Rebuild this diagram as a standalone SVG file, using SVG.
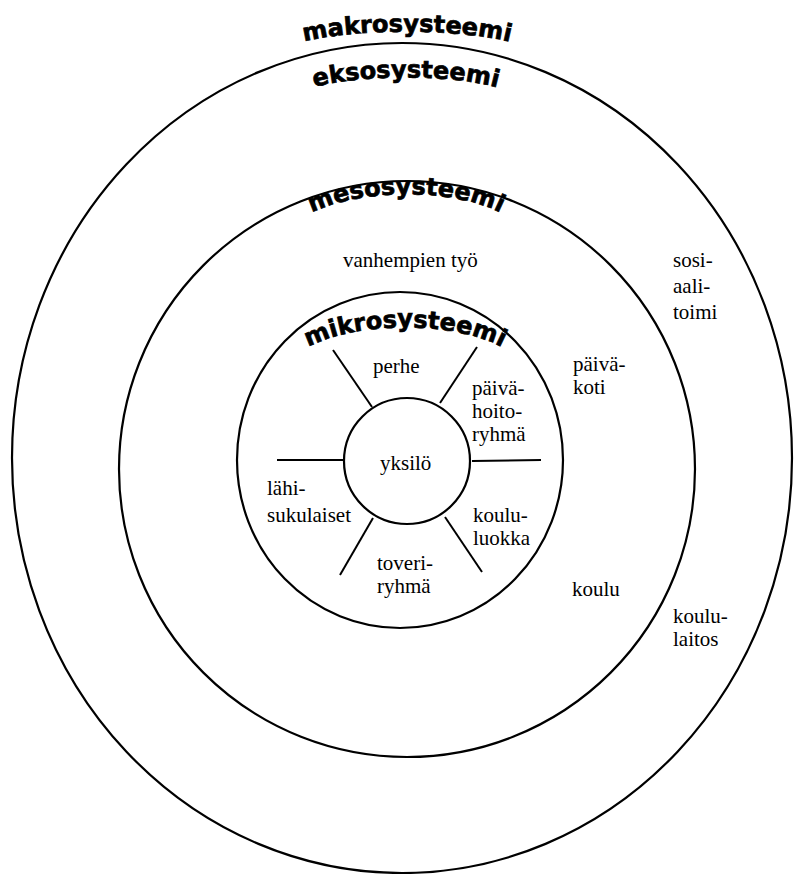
<svg xmlns="http://www.w3.org/2000/svg" xmlns:xlink="http://www.w3.org/1999/xlink" width="794" height="874" viewBox="0 0 794 874">
<style>
.ring{fill:none;stroke:#000;stroke-width:2.2}
.spoke{stroke:#000;stroke-width:2;fill:none}
.lbl{font-family:"Liberation Serif","Times New Roman",serif;font-size:21px;fill:#000}
.ttl{font-family:"DejaVu Sans","Verdana",sans-serif;font-weight:bold;font-size:24px;fill:#000;stroke:#000;stroke-width:0.7px}
</style>
<defs>
<path id="pMakro" d="M 290 46 C 340 27, 470 27, 524 46"/>
<path id="pEkso" d="M 296 94 C 340 72, 470 72, 516 94"/>
<path id="pMeso" d="M 290 228 C 335 183, 478 183, 522 228"/>
<path id="pMikro" d="M 288 362 C 330 316, 480 316, 522 362"/>
</defs>
<rect width="794" height="874" fill="#fff"/>
<g id="makrosysteemi">
<text class="ttl"><textPath xlink:href="#pMakro" href="#pMakro" startOffset="50%" text-anchor="middle">makrosysteemi</textPath></text>
</g>
<g id="eksosysteemi">
<ellipse class="ring" cx="402" cy="458" rx="390" ry="415"/>
<text class="ttl"><textPath xlink:href="#pEkso" href="#pEkso" startOffset="50%" text-anchor="middle">eksosysteemi</textPath></text>
<text class="lbl" x="673" y="267">sosi-</text>
<text class="lbl" x="673" y="293">aali-</text>
<text class="lbl" x="673" y="319">toimi</text>
<text class="lbl" x="673" y="623">koulu-</text>
<text class="lbl" x="673" y="646">laitos</text>
</g>
<g id="mesosysteemi">
<circle class="ring" cx="407" cy="469" r="288"/>
<text class="ttl"><textPath xlink:href="#pMeso" href="#pMeso" startOffset="50%" text-anchor="middle">mesosysteemi</textPath></text>
<text class="lbl" x="343" y="267">vanhempien työ</text>
<text class="lbl" x="573" y="371">päivä-</text>
<text class="lbl" x="573" y="394">koti</text>
<text class="lbl" x="572" y="596">koulu</text>
</g>
<g id="mikrosysteemi">
<ellipse class="ring" cx="400" cy="460" rx="163" ry="168"/>
<text class="ttl"><textPath xlink:href="#pMikro" href="#pMikro" startOffset="50%" text-anchor="middle">mikrosysteemi</textPath></text>
</g>
<g id="perhe"><text class="lbl" x="373" y="373">perhe</text></g>
<g id="paivahoitoryhma">
<text class="lbl" x="472" y="395">päivä-</text>
<text class="lbl" x="472" y="418">hoito-</text>
<text class="lbl" x="472" y="441">ryhmä</text>
</g>
<g id="lahisukulaiset">
<text class="lbl" x="267" y="495">lähi-</text>
<text class="lbl" x="267" y="522">sukulaiset</text>
</g>
<g id="koululuokka">
<text class="lbl" x="473" y="522">koulu-</text>
<text class="lbl" x="473" y="545">luokka</text>
</g>
<g id="toveriryhma">
<text class="lbl" x="377" y="570">toveri-</text>
<text class="lbl" x="377" y="593">ryhmä</text>
</g>
<g id="yksilo">
<circle class="ring" cx="407" cy="461" r="63"/>
<text class="lbl" x="380" y="470">yksilö</text>
</g>
<g id="connectors">
<line class="spoke" x1="333" y1="350" x2="372" y2="407"/>
<line class="spoke" x1="477" y1="347" x2="440" y2="403"/>
<line class="spoke" x1="277" y1="460" x2="343" y2="460"/>
<line class="spoke" x1="472" y1="461" x2="541" y2="460"/>
<line class="spoke" x1="373" y1="518" x2="340" y2="575"/>
<line class="spoke" x1="445" y1="517" x2="482" y2="572"/>
</g>
</svg>
